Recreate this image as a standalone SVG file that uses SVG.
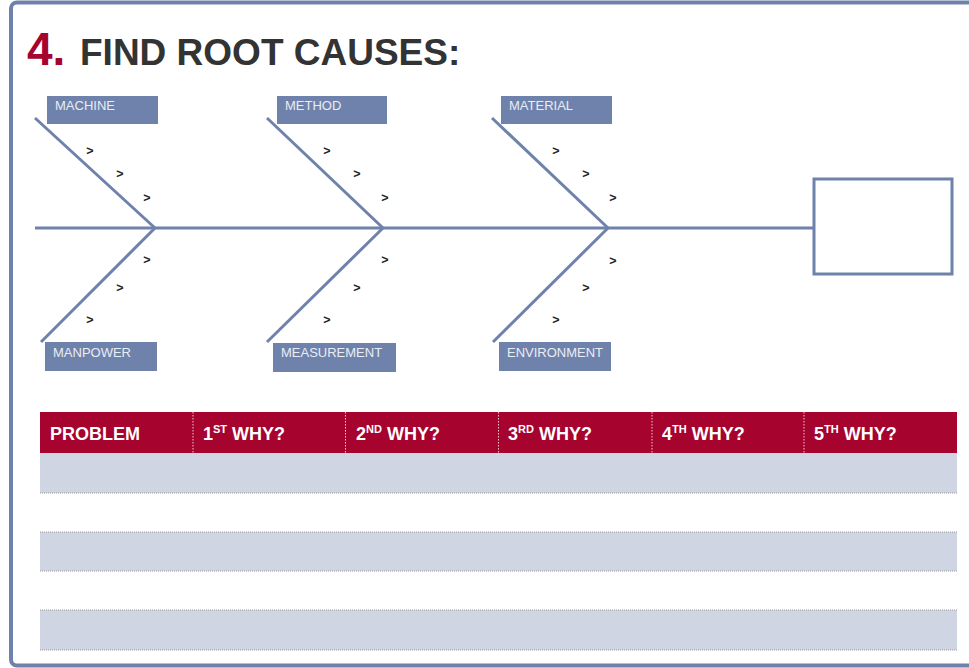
<svg xmlns="http://www.w3.org/2000/svg" width="969" height="668" viewBox="0 0 969 668">
<style>
.frame{fill:#fff;stroke:#6F82AB;stroke-width:4}
.bone{stroke:#6F82AB;stroke-width:3;fill:none;stroke-linecap:butt}
.lbl{fill:#6F82AB}
.lt{font-family:"Liberation Sans",Arial,sans-serif;font-size:13px;fill:#E9EDF5}
.chev{font-family:"Liberation Sans",Arial,sans-serif;font-size:12.5px;font-weight:bold;fill:#222;text-anchor:middle}
.hd{font-family:"Liberation Sans",Arial,sans-serif;font-size:18px;font-weight:bold;fill:#fff}
.sep{stroke:#EFC9D2;stroke-width:1;stroke-dasharray:1.5 1.5}
.row{fill:#CFD5E2}
.dot{stroke:#9A9A9A;stroke-width:1;stroke-dasharray:1 1}
</style>
<rect class="frame" x="11" y="2.5" width="990" height="663" rx="6"/>
<g id="title">
<text x="27" y="65" font-family="Liberation Sans,Arial,sans-serif" font-size="46" font-weight="bold" fill="#A6032F">4.</text>
<text x="80" y="65" font-family="Liberation Sans,Arial,sans-serif" font-size="37" font-weight="bold" fill="#333">FIND ROOT CAUSES:</text>
</g>
<g id="connectors">
<line class="bone" x1="35" y1="228" x2="813" y2="228"/>
<line class="bone" x1="35" y1="118" x2="155" y2="228"/>
<line class="bone" x1="267" y1="118" x2="383" y2="228"/>
<line class="bone" x1="492" y1="118" x2="608" y2="228"/>
<line class="bone" x1="155" y1="228" x2="41" y2="342"/>
<line class="bone" x1="383" y1="228" x2="267" y2="342"/>
<line class="bone" x1="608" y1="228" x2="493" y2="342"/>
</g>
<g id="effect"><rect x="814" y="179" width="138" height="95" fill="#fff" stroke="#6F82AB" stroke-width="3"/></g>
<g id="machine"><rect class="lbl" x="47" y="96" width="111" height="28"/><text class="lt" x="55" y="110">MACHINE</text></g>
<g id="method"><rect class="lbl" x="277" y="96" width="110" height="28"/><text class="lt" x="285" y="110">METHOD</text></g>
<g id="material"><rect class="lbl" x="501" y="96" width="111" height="28"/><text class="lt" x="509" y="110">MATERIAL</text></g>
<g id="manpower"><rect class="lbl" x="45" y="342" width="112" height="29"/><text class="lt" x="53" y="357">MANPOWER</text></g>
<g id="measurement"><rect class="lbl" x="273" y="343" width="123" height="29"/><text class="lt" x="281" y="357">MEASUREMENT</text></g>
<g id="environment"><rect class="lbl" x="499" y="342" width="112" height="29"/><text class="lt" x="507" y="357">ENVIRONMENT</text></g>
<g id="chevrons">
<text class="chev" x="90" y="155">&gt;</text><text class="chev" x="120" y="178">&gt;</text><text class="chev" x="147" y="202">&gt;</text>
<text class="chev" x="327" y="155">&gt;</text><text class="chev" x="357" y="178">&gt;</text><text class="chev" x="385" y="202">&gt;</text>
<text class="chev" x="556" y="155">&gt;</text><text class="chev" x="586" y="178">&gt;</text><text class="chev" x="613" y="202">&gt;</text>
<text class="chev" x="147" y="264">&gt;</text><text class="chev" x="120" y="292">&gt;</text><text class="chev" x="90" y="324">&gt;</text>
<text class="chev" x="385" y="264">&gt;</text><text class="chev" x="357" y="292">&gt;</text><text class="chev" x="327" y="324">&gt;</text>
<text class="chev" x="613" y="265">&gt;</text><text class="chev" x="586" y="292">&gt;</text><text class="chev" x="556" y="324">&gt;</text>
</g>
<g id="table">
<rect x="40" y="412" width="917" height="41" fill="#A6032F"/>
<line class="sep" x1="193" y1="412" x2="193" y2="453"/>
<line class="sep" x1="345.5" y1="412" x2="345.5" y2="453"/>
<line class="sep" x1="498.5" y1="412" x2="498.5" y2="453"/>
<line class="sep" x1="652" y1="412" x2="652" y2="453"/>
<line class="sep" x1="804" y1="412" x2="804" y2="453"/>
<text class="hd" x="50" y="440">PROBLEM</text>
<text class="hd" x="203" y="440">1<tspan font-size="11" dy="-7">ST</tspan><tspan dy="7"> WHY?</tspan></text>
<text class="hd" x="356" y="440">2<tspan font-size="11" dy="-7">ND</tspan><tspan dy="7"> WHY?</tspan></text>
<text class="hd" x="508" y="440">3<tspan font-size="11" dy="-7">RD</tspan><tspan dy="7"> WHY?</tspan></text>
<text class="hd" x="662" y="440">4<tspan font-size="11" dy="-7">TH</tspan><tspan dy="7"> WHY?</tspan></text>
<text class="hd" x="814" y="440">5<tspan font-size="11" dy="-7">TH</tspan><tspan dy="7"> WHY?</tspan></text>
<rect class="row" x="40" y="453" width="917" height="40"/>
<rect class="row" x="40" y="532" width="917" height="39"/>
<rect class="row" x="40" y="610" width="917" height="40"/>
<line class="dot" x1="40" y1="493" x2="957" y2="493"/>
<line class="dot" x1="40" y1="532" x2="957" y2="532"/>
<line class="dot" x1="40" y1="571" x2="957" y2="571"/>
<line class="dot" x1="40" y1="610" x2="957" y2="610"/>
<line class="dot" x1="40" y1="650" x2="957" y2="650"/>
</g>
</svg>
